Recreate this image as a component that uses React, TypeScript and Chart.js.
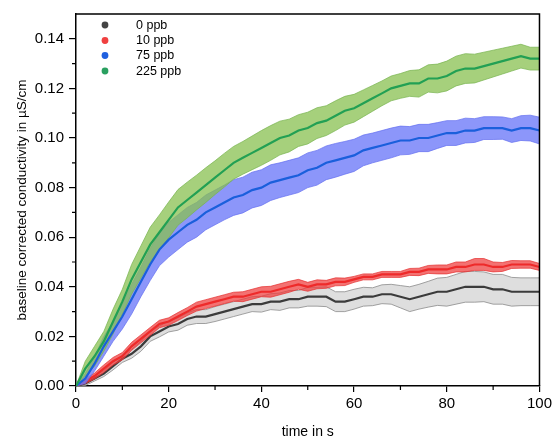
import { useEffect, useRef } from "react";
import { Chart, registerables } from "chart.js";

Chart.register(...registerables);

const timeS = [0, 2, 4, 6, 8, 10, 12, 14, 16, 18, 20, 22, 24, 26, 28, 30, 32, 34, 36, 38, 40, 42, 44, 46, 48, 50, 52, 54, 56, 58, 60, 62, 64, 66, 68, 70, 72, 74, 76, 78, 80, 82, 84, 86, 88, 90, 92, 94, 96, 98, 100];

const seriesLabels = ["0 ppb", "10 ppb", "75 ppb", "225 ppb"];

const mean0 = [0, 0.001, 0.003, 0.005, 0.008, 0.011, 0.013, 0.016, 0.020, 0.022, 0.024, 0.025, 0.027, 0.028, 0.028, 0.029, 0.030, 0.031, 0.032, 0.033, 0.033, 0.034, 0.034, 0.035, 0.035, 0.036, 0.036, 0.036, 0.034, 0.034, 0.035, 0.036, 0.036, 0.037, 0.037, 0.036, 0.035, 0.036, 0.037, 0.038, 0.038, 0.039, 0.040, 0.040, 0.040, 0.039, 0.039, 0.038, 0.038, 0.038, 0.038];
const spread0 = [0, 0.0008, 0.001, 0.0012, 0.0015, 0.0015, 0.0018, 0.002, 0.002, 0.0022, 0.0022, 0.0025, 0.0025, 0.0028, 0.0028, 0.003, 0.003, 0.003, 0.003, 0.003, 0.0032, 0.0032, 0.0035, 0.0035, 0.0035, 0.0038, 0.0038, 0.004, 0.004, 0.004, 0.004, 0.0038, 0.0036, 0.0038, 0.004, 0.0045, 0.005, 0.005, 0.0052, 0.0055, 0.0058, 0.006, 0.0062, 0.0062, 0.006, 0.006, 0.006, 0.0058, 0.0056, 0.0056, 0.0056];

const mean10 = [0, 0.002, 0.004, 0.007, 0.010, 0.012, 0.016, 0.019, 0.022, 0.025, 0.026, 0.028, 0.030, 0.032, 0.033, 0.034, 0.035, 0.036, 0.036, 0.037, 0.038, 0.038, 0.039, 0.040, 0.041, 0.040, 0.041, 0.041, 0.042, 0.042, 0.043, 0.044, 0.044, 0.045, 0.045, 0.045, 0.046, 0.046, 0.047, 0.047, 0.047, 0.048, 0.048, 0.049, 0.049, 0.048, 0.048, 0.049, 0.049, 0.049, 0.048];
const spread10 = [0, 0.001, 0.0012, 0.0015, 0.0015, 0.0015, 0.0016, 0.0016, 0.0016, 0.0015, 0.0015, 0.0016, 0.0016, 0.0018, 0.0018, 0.0018, 0.0018, 0.0018, 0.002, 0.002, 0.002, 0.0022, 0.0022, 0.0022, 0.002, 0.0018, 0.0018, 0.0016, 0.0016, 0.0015, 0.0012, 0.0012, 0.0012, 0.0012, 0.0012, 0.0012, 0.0014, 0.0015, 0.0016, 0.0018, 0.0018, 0.002, 0.002, 0.0024, 0.0024, 0.002, 0.0018, 0.0016, 0.0015, 0.0015, 0.0014];

const mean75 = [0, 0.003, 0.009, 0.016, 0.022, 0.028, 0.035, 0.042, 0.049, 0.055, 0.059, 0.062, 0.065, 0.067, 0.070, 0.072, 0.074, 0.076, 0.077, 0.079, 0.080, 0.082, 0.083, 0.084, 0.085, 0.087, 0.088, 0.090, 0.091, 0.092, 0.093, 0.095, 0.096, 0.097, 0.098, 0.099, 0.099, 0.100, 0.100, 0.101, 0.102, 0.102, 0.103, 0.103, 0.104, 0.104, 0.104, 0.103, 0.104, 0.104, 0.103];
const spread75 = [0, 0.002, 0.003, 0.004, 0.004, 0.005, 0.006, 0.006, 0.0065, 0.0065, 0.007, 0.007, 0.007, 0.007, 0.007, 0.007, 0.007, 0.0072, 0.0072, 0.0072, 0.0072, 0.0072, 0.007, 0.007, 0.007, 0.007, 0.007, 0.0068, 0.0068, 0.0066, 0.0065, 0.0062, 0.006, 0.006, 0.006, 0.0058, 0.0056, 0.0055, 0.0055, 0.0052, 0.005, 0.005, 0.005, 0.0048, 0.0046, 0.0046, 0.0045, 0.0048, 0.005, 0.0052, 0.0054];

const mean225 = [0, 0.007, 0.012, 0.018, 0.026, 0.034, 0.043, 0.050, 0.057, 0.062, 0.067, 0.072, 0.075, 0.078, 0.081, 0.084, 0.087, 0.090, 0.092, 0.094, 0.096, 0.098, 0.100, 0.101, 0.103, 0.104, 0.106, 0.107, 0.109, 0.111, 0.112, 0.114, 0.116, 0.118, 0.120, 0.121, 0.122, 0.122, 0.124, 0.124, 0.125, 0.127, 0.128, 0.128, 0.129, 0.130, 0.131, 0.132, 0.133, 0.132, 0.132];
const spread225 = [0, 0.003, 0.004, 0.004, 0.005, 0.005, 0.006, 0.0065, 0.007, 0.007, 0.0072, 0.0072, 0.0072, 0.007, 0.007, 0.0068, 0.0068, 0.0066, 0.0066, 0.0068, 0.007, 0.007, 0.0068, 0.0066, 0.0064, 0.0064, 0.0062, 0.006, 0.006, 0.0058, 0.0056, 0.0054, 0.0052, 0.005, 0.005, 0.005, 0.0052, 0.0055, 0.0055, 0.0058, 0.006, 0.006, 0.006, 0.0058, 0.0056, 0.0054, 0.0052, 0.005, 0.0048, 0.0046, 0.0046];

const xTickLabels = [0, 20, 40, 60, 80, 100];
const yTickLabels = ["0.00", "0.02", "0.04", "0.06", "0.08", "0.10", "0.12", "0.14"];

const FONT = "'Liberation Sans', Arial, sans-serif";

type SeriesStyle = { line: string; band: string; edge: string; marker: string };
const styles: SeriesStyle[] = [
  { line: "#3b3b3b", band: "rgba(222,222,222,1)", edge: "#8c8c8c", marker: "#444444" },
  { line: "#ee2a2a", band: "rgba(238,60,60,0.72)", edge: "rgba(230,50,50,0.9)", marker: "#f04040" },
  { line: "#1a5fdc", band: "rgba(111,124,249,0.8)", edge: "rgba(100,112,240,0.9)", marker: "#1f60e0" },
  { line: "#22a054", band: "rgba(136,192,80,0.75)", edge: "rgba(120,180,80,0.9)", marker: "#2aa060" },
];

export default function App() {
  const ref = useRef<HTMLCanvasElement | null>(null);

  useEffect(() => {
    document.body.style.margin = "0";
    const canvas = ref.current;
    if (!canvas) return;

    const means = [mean0, mean10, mean75, mean225];
    const spreads = [spread0, spread10, spread75, spread225];
    const bandOrders = [20, 16, 12, 10];
    const lineOrders = [18, 14, 6, 4];

    const datasets: any[] = [];
    means.forEach((m, i) => {
      const st = styles[i];
      const lowerIndex = datasets.length;
      datasets.push({
        label: seriesLabels[i] + " lower",
        data: timeS.map((t, k) => ({ x: t, y: m[k] - spreads[i][k] })),
        borderColor: st.edge,
        borderWidth: 0.8,
        pointRadius: 0,
        fill: false,
        order: bandOrders[i],
        tension: 0,
      });
      datasets.push({
        label: seriesLabels[i] + " upper",
        data: timeS.map((t, k) => ({ x: t, y: m[k] + spreads[i][k] })),
        borderColor: st.edge,
        borderWidth: 0.8,
        pointRadius: 0,
        backgroundColor: st.band,
        fill: { target: lowerIndex },
        order: bandOrders[i],
        tension: 0,
      });
    });
    means.forEach((m, i) => {
      const st = styles[i];
      datasets.push({
        label: seriesLabels[i],
        data: timeS.map((t, k) => ({ x: t, y: m[k] })),
        borderColor: st.line,
        borderWidth: 2.2,
        pointRadius: 0,
        fill: false,
        order: lineOrders[i],
        tension: 0,
      });
    });

    const decor = {
      id: "decor",
      afterDraw(chart: any) {
        const ctx = chart.ctx;
        const { left, right, top, bottom } = chart.chartArea;
        const xs = chart.scales.x;
        const ys = chart.scales.y;
        ctx.save();
        ctx.strokeStyle = "#000";
        ctx.lineWidth = 1.5;
        ctx.beginPath();
        ctx.moveTo(left, top);
        ctx.lineTo(right, top);
        ctx.lineTo(right, bottom);
        ctx.stroke();
        // minor ticks
        ctx.lineWidth = 1.2;
        ctx.beginPath();
        for (let v = 10; v < 100; v += 20) {
          const px = xs.getPixelForValue(v);
          ctx.moveTo(px, bottom);
          ctx.lineTo(px, bottom + 4);
        }
        for (let j = 1; j < 15; j += 2) {
          const py = ys.getPixelForValue(j / 100);
          ctx.moveTo(left, py);
          ctx.lineTo(left - 4, py);
        }
        ctx.stroke();
        // legend
        const rows = [25, 40.5, 55.5, 71];
        ctx.font = `12.5px ${FONT}`;
        ctx.textBaseline = "middle";
        ctx.textAlign = "left";
        seriesLabels.forEach((lab, i) => {
          ctx.fillStyle = styles[i].marker;
          ctx.beginPath();
          ctx.arc(105, rows[i], 3.4, 0, Math.PI * 2);
          ctx.fill();
          ctx.fillStyle = "#000";
          ctx.fillText(lab, 136, rows[i] + 0.5);
        });
        ctx.restore();
      },
    };

    const chart = new Chart(canvas, {
      type: "line",
      data: { datasets },
      options: {
        animation: false,
        responsive: false,
        maintainAspectRatio: false,
        layout: { padding: { top: 13, right: 15, left: 0, bottom: 0 } },
        plugins: {
          legend: { display: false },
          tooltip: { enabled: false },
          filler: { propagate: false },
        },
        scales: {
          x: {
            type: "linear",
            min: 0,
            max: 100,
            afterFit(scale: any) {
              scale.height = 53;
            },
            afterBuildTicks(scale: any) {
              scale.ticks = xTickLabels.map((v) => ({ value: v }));
            },
            ticks: {
              font: { family: FONT, size: 15 },
              color: "#000",
              padding: 3,
              maxRotation: 0,
              callback: (v: any) => String(v),
            },
            grid: { drawOnChartArea: false, drawTicks: true, tickLength: 6, color: "#000", lineWidth: 1.2 },
            border: { color: "#000", width: 1.5 },
            title: {
              display: true,
              text: "time in s",
              font: { family: FONT, size: 14, lineHeight: 1.0 },
              color: "#000",
              padding: { top: 0, bottom: 0 },
            },
          },
          y: {
            type: "linear",
            min: 0,
            max: 0.15,
            afterFit(scale: any) {
              scale.width = 76;
            },
            afterBuildTicks(scale: any) {
              scale.ticks = yTickLabels.map((s) => ({ value: parseFloat(s) }));
            },
            ticks: {
              font: { family: FONT, size: 15 },
              color: "#000",
              padding: 5,
              callback: (v: any) => {
                const s = yTickLabels.find((l) => Math.abs(parseFloat(l) - v) < 1e-9);
                return s ?? "";
              },
            },
            grid: { drawOnChartArea: false, drawTicks: true, tickLength: 7, color: "#000", lineWidth: 1.2 },
            border: { color: "#000", width: 1.5 },
            title: {
              display: true,
              text: "baseline corrected conductivity in µS/cm",
              font: { family: FONT, size: 13.5 },
              color: "#000",
              padding: { top: 14, bottom: 0 },
            },
          },
        },
      },
      plugins: [decor],
    });

    return () => chart.destroy();
  }, []);

  return (
    <div style={{ width: 555, height: 439, background: "#fff" }}>
      <canvas ref={ref} width={555} height={439} style={{ display: "block", width: 555, height: 439 }} />
    </div>
  );
}
